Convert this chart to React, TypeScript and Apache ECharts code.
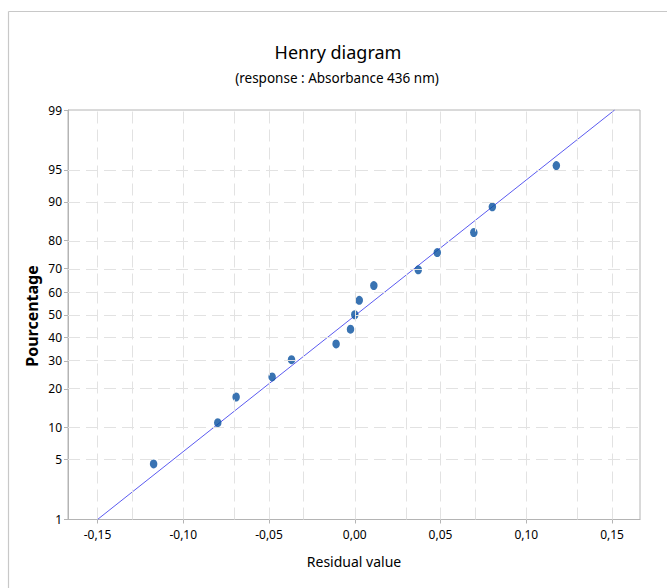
import React, { useEffect, useRef } from "react";
import * as echarts from "echarts";

// Residuals (x) and their cumulative percentages (y)
const residuals = [-0.1173, -0.0799, -0.0692, -0.0482, -0.0369, -0.0109, -0.0025, 0.0, 0.0026, 0.0111, 0.037, 0.0481, 0.0694, 0.0802, 0.1175];
const percents = [4.5, 11.0, 17.5, 24.0, 30.5, 37.0, 43.5, 50.0, 56.5, 63.0, 69.5, 76.0, 82.5, 89.0, 95.5];

// Fitted line end points
const fitX = [-0.15, 0.1515];
const fitP = [1, 99];

// Axis ticks / grid
const xTicks = [-0.15, -0.1, -0.05, 0.0, 0.05, 0.1, 0.15];
const xGrid = [-0.15, -0.125, -0.1, -0.075, -0.05, -0.025, 0.0, 0.025, 0.05, 0.075, 0.1, 0.125, 0.15];
const yTicks = [1, 5, 10, 20, 30, 40, 50, 60, 70, 80, 90, 95, 99];
const yGrid = [5, 10, 20, 30, 40, 50, 60, 70, 80, 90, 95];

// inverse normal CDF (Acklam) – probability scale transform
function probit(pct: number): number {
  const p = pct / 100;
  const a = [-3.969683028665376e1, 2.209460984245205e2, -2.759285104469687e2, 1.38357751867269e2, -3.066479806614716e1, 2.506628277459239];
  const b = [-5.447609879822406e1, 1.615858368580409e2, -1.556989798598866e2, 6.680131188771972e1, -1.328068155288572e1];
  const c = [-7.784894002430293e-3, -3.223964580411365e-1, -2.400758277161838, -2.549732539343734, 4.374664141464968, 2.938163982698783];
  const d = [7.784695709041462e-3, 3.224671290700398e-1, 2.445134137142996, 3.754408661907416];
  const pl = 0.02425;
  if (p < pl) {
    const q = Math.sqrt(-2 * Math.log(p));
    return (((((c[0] * q + c[1]) * q + c[2]) * q + c[3]) * q + c[4]) * q + c[5]) / ((((d[0] * q + d[1]) * q + d[2]) * q + d[3]) * q + 1);
  }
  if (p > 1 - pl) {
    const q = Math.sqrt(-2 * Math.log(1 - p));
    return -(((((c[0] * q + c[1]) * q + c[2]) * q + c[3]) * q + c[4]) * q + c[5]) / ((((d[0] * q + d[1]) * q + d[2]) * q + d[3]) * q + 1);
  }
  const q = p - 0.5;
  const r = q * q;
  return ((((((a[0] * r + a[1]) * r + a[2]) * r + a[3]) * r + a[4]) * r + a[5]) * q) / (((((b[0] * r + b[1]) * r + b[2]) * r + b[3]) * r + b[4]) * r + 1);
}

const FONT = "'Noto Sans', sans-serif";

export default function App() {
  const ref = useRef<HTMLDivElement>(null);
  useEffect(() => {
    if (!ref.current) return;
    const chart = echarts.init(ref.current, undefined, { renderer: "svg" });
    const yTickZ = yTicks.map(probit);
    const fmtX = (v: number) => v.toFixed(2).replace(".", ",");
    const fmtY = (v: number) => {
      let best = yTicks[0];
      let bd = Infinity;
      yTicks.forEach((p) => {
        const dd = Math.abs(probit(p) - v);
        if (dd < bd) { bd = dd; best = p; }
      });
      return String(best);
    };
    chart.setOption({
      animation: false,
      backgroundColor: "#ffffff",
      grid: {
        left: 68,
        right: 27,
        top: 110,
        bottom: 68.5,
        containLabel: false,
        show: true,
        borderColor: "#b4b4b4",
        borderWidth: 1,
      },
      xAxis: {
        type: "value",
        min: -0.1672,
        max: 0.1663,
        axisLine: { show: true, onZero: false, lineStyle: { color: "#b4b4b4", width: 1 } },
        axisTick: { show: true, customValues: xTicks, length: 4, lineStyle: { color: "#b4b4b4" } },
        axisLabel: {
          customValues: xTicks,
          formatter: fmtX,
          margin: 9,
          color: "#000",
          fontSize: 12,
          fontFamily: FONT,
        },
        splitLine: { show: false },
      },
      yAxis: {
        type: "value",
        min: probit(1),
        max: probit(99),
        axisLine: { show: true, onZero: false, lineStyle: { color: "#b4b4b4", width: 1 } },
        axisTick: { show: true, customValues: yTickZ, length: 4, lineStyle: { color: "#b4b4b4" } },
        axisLabel: {
          customValues: yTickZ,
          formatter: fmtY,
          margin: 6,
          color: "#000",
          fontSize: 12,
          fontFamily: FONT,
        },
        splitLine: { show: false },
      },
      graphic: [
        { type: "line", shape: { x1: 8.5, y1: 11.5, x2: 667, y2: 11.5 }, style: { stroke: "#c8c8c8", lineWidth: 1.2 }, silent: true },
        { type: "line", shape: { x1: 8.5, y1: 11.5, x2: 8.5, y2: 588 }, style: { stroke: "#c8c8c8", lineWidth: 1.2 }, silent: true },
        {
          type: "text",
          x: 338,
          y: 52,
          style: { text: "Henry diagram", fontSize: 18, fontFamily: FONT, fill: "#000", textAlign: "center", textVerticalAlign: "middle" },
        },
        {
          type: "text",
          x: 337,
          y: 78,
          style: { text: "(response : Absorbance 436 nm)", fontSize: 13.5, fontFamily: FONT, fill: "#000", textAlign: "center", textVerticalAlign: "middle" },
        },
        {
          type: "text",
          x: 354,
          y: 561,
          style: { text: "Residual value", fontSize: 14, fontFamily: FONT, fill: "#000", textAlign: "center", textVerticalAlign: "middle" },
        },
        {
          type: "text",
          x: 32,
          y: 316,
          rotation: Math.PI / 2,
          style: { text: "Pourcentage", fontSize: 16, fontWeight: "bold", fontFamily: FONT, fill: "#000", textAlign: "center", textVerticalAlign: "middle" },
        },
      ],
      series: [
        {
          type: "line",
          data: [],
          silent: true,
          z: 1,
          markLine: {
            silent: true,
            symbol: "none",
            label: { show: false },
            lineStyle: { color: "#e2e2e2", type: [12, 6], width: 1 },
            data: [
              ...xGrid.map((v) => ({ xAxis: v })),
              ...yGrid.map((p) => ({ yAxis: probit(p) })),
            ],
          },
        },
        {
          type: "line",
          data: fitX.map((x, i) => [x, probit(fitP[i])]),
          showSymbol: false,
          symbol: "none",
          lineStyle: { color: "#5b5bf0", width: 1 },
          z: 2,
        },
        {
          type: "scatter",
          data: residuals.map((x, i) => [x, probit(percents[i])]),
          symbol: "circle",
          symbolSize: [7.5, 9],
          itemStyle: { color: "#08509f" },
          z: 3,
        },
      ],
    });
    return () => chart.dispose();
  }, []);
  return <div ref={ref} style={{ position: "fixed", left: 0, top: 0, width: 667, height: 588 }} />;
}
